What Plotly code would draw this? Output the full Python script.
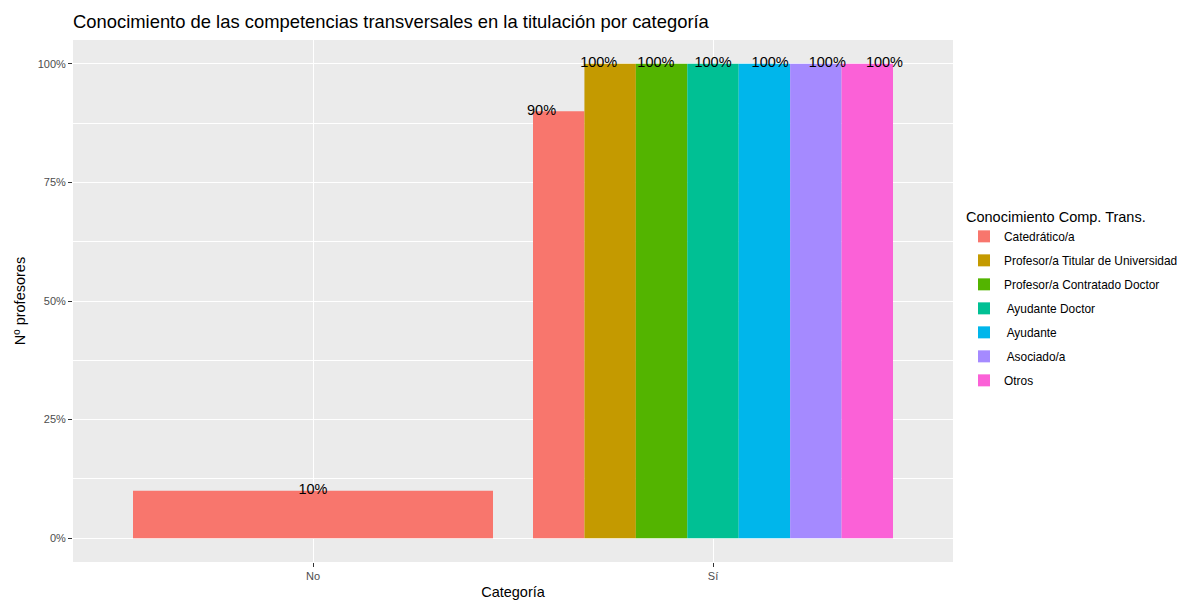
import plotly.graph_objects as go

categories = ["No", "Sí"]
groups = ["Catedrático/a", "Profesor/a Titular de Universidad", "Profesor/a Contratado Doctor",
          " Ayudante Doctor", " Ayudante", " Asociado/a", "Otros"]
colors = ["#F8766D", "#C49A00", "#53B400", "#00C094", "#00B6EB", "#A58AFF", "#FB61D7"]
# value per group for [No, Sí]; None = absent
values = {
    "Catedrático/a": [0.10, 0.90],
    "Profesor/a Titular de Universidad": [None, 1.0],
    "Profesor/a Contratado Doctor": [None, 1.0],
    " Ayudante Doctor": [None, 1.0],
    " Ayudante": [None, 1.0],
    " Asociado/a": [None, 1.0],
    "Otros": [None, 1.0],
}
labels = {
    "Catedrático/a": ["10%", "90%"],
    "Profesor/a Titular de Universidad": [None, "100%"],
    "Profesor/a Contratado Doctor": [None, "100%"],
    " Ayudante Doctor": [None, "100%"],
    " Ayudante": [None, "100%"],
    " Asociado/a": [None, "100%"],
    "Otros": [None, "100%"],
}

BAR_W = 0.9   # geom_bar dodge width
TXT_W = 1.0   # geom_text dodge width

fig = go.Figure()

present = [[g for g in groups if values[g][ci] is not None] for ci in range(len(categories))]

text_x, text_y, text_t = [], [], []
for gi, g in enumerate(groups):
    xs, ys, ws = [], [], []
    for ci, c in enumerate(categories):
        v = values[g][ci]
        if v is None:
            continue
        n = len(present[ci])
        k = present[ci].index(g)
        center = ci + 1
        w = BAR_W / n
        xs.append(center - BAR_W / 2 + w * (k + 0.5))
        ys.append(v)
        ws.append(w)
        tw = TXT_W / n
        text_x.append(center - TXT_W / 2 + tw * (k + 0.5))
        text_y.append(v)
        text_t.append(labels[g][ci])
    fig.add_trace(go.Bar(
        x=xs, y=ys, width=ws, name=g, legendgroup=g,
        marker=dict(color=colors[gi], line=dict(width=0)),
        hoverinfo="skip",
    ))

fig.add_trace(go.Scatter(
    x=text_x, y=text_y, text=text_t, mode="text",
    textposition="middle center",
    textfont=dict(size=14.5, color="black", family="Liberation Sans, Arial, sans-serif"),
    showlegend=False, hoverinfo="skip",
))

fig.update_layout(
    width=1182, height=600,
    barmode="overlay",
    paper_bgcolor="white",
    plot_bgcolor="#EBEBEB",
    font=dict(family="Liberation Sans, Arial, sans-serif", color="black"),
    margin=dict(l=73, r=229, t=40, b=38, autoexpand=False),
    title=dict(text="Conocimiento de las competencias transversales en la titulación por categoría",
               x=73 / 1182, xanchor="left", y=1 - 22 / 600, yanchor="middle",
               font=dict(size=18.4, color="black")),
    legend=dict(
        title=dict(text="Conocimiento Comp. Trans.", font=dict(size=14.5, color="black")),
        xref="container", yref="container",
        x=964 / 1182, xanchor="left", y=1 - 203 / 600, yanchor="top",
        font=dict(size=11.9, color="black"),
        tracegroupgap=5, traceorder="grouped",
        bgcolor="rgba(0,0,0,0)",
    ),
    showlegend=True,
)

fig.update_xaxes(
    range=[0.4, 2.6], tickvals=[1, 2], ticktext=categories,
    showgrid=True, gridcolor="white", gridwidth=1.3,
    zeroline=False, ticks="outside", ticklen=4, tickcolor="#333333", tickwidth=1,
    tickfont=dict(size=11, color="#4D4D4D"),
    title=dict(text="Categoría", font=dict(size=14.5, color="black"), standoff=6),
    showline=False, automargin=False,
)
fig.update_yaxes(
    range=[-0.05, 1.05], tickvals=[0, 0.25, 0.5, 0.75, 1.0], tickformat=".0%",
    showgrid=True, gridcolor="white", gridwidth=1.3,
    minor=dict(tickvals=[0.125, 0.375, 0.625, 0.875], showgrid=True, gridcolor="white", gridwidth=0.6),
    zeroline=False, ticks="outside", ticklen=4, tickcolor="#333333", tickwidth=1,
    tickfont=dict(size=11, color="#4D4D4D"),
    title=dict(text="Nº profesores", font=dict(size=14.5, color="black"), standoff=8),
    showline=False, automargin=False,
)

fig.write_html("out.html", config={"displayModeBar": False},
               post_script="document.body.style.margin='0';document.body.style.overflow='hidden';")
